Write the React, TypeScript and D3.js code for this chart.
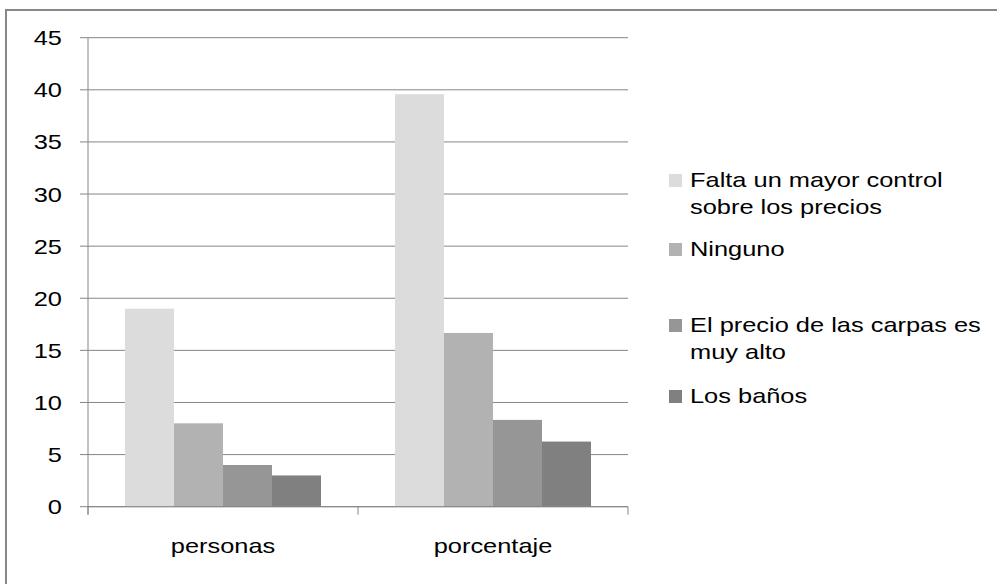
import React from "react";
import * as d3 from "d3";

const categories = ["personas", "porcentaje"];
const seriesNames = [
  ["Falta un mayor control", "sobre los precios"],
  ["Ninguno"],
  ["El precio de las carpas es", "muy alto"],
  ["Los baños"],
];
const personasValues = [19, 8, 4, 3];
const porcentajeValues = [39.58, 16.67, 8.33, 6.25];
const yTicks = [0, 5, 10, 15, 20, 25, 30, 35, 40, 45];
const colors = ["#dcdcdc", "#b2b2b2", "#969696", "#808080"];

const W = 997;
const H = 584;
const FONT = "'Liberation Sans', Arial, sans-serif";
const SX = 1.21;

export default function App() {
  const values = [personasValues, porcentajeValues];
  const x0 = d3.scaleBand<string>().domain(categories).range([88, 628]).padding(0);
  const x1 = d3
    .scaleBand<number>()
    .domain(d3.range(seriesNames.length))
    .range([0, x0.bandwidth()])
    .paddingInner(0)
    .paddingOuter(0.755);
  const y = d3.scaleLinear().domain([0, 45]).range([506.7, 37.7]);
  const grid = "#868686";

  const legendY = d3.scaleOrdinal<number, number>().domain([0, 1, 2, 3]).range([187, 256, 332, 403]);

  const st = (x: number, yy: number) => `translate(${x},${yy}) scale(${SX},1)`;

  return (
    <svg width={W} height={H} style={{ position: "absolute", left: 0, top: 0 }}>
      <rect x={0} y={0} width={W} height={H} fill="#fff" />
      <rect x={6} y={10} width={W + 20} height={H + 20} fill="none" stroke="#888" strokeWidth={2} />
      {yTicks.map((t) => (
        <line key={t} x1={80} x2={628} y1={y(t)} y2={y(t)} stroke={grid} strokeWidth={1} />
      ))}
      {categories.map((c, ci) =>
        values[ci].map((v, si) => (
          <rect
            key={c + si}
            x={(x0(c) as number) + (x1(si) as number)}
            width={x1.bandwidth()}
            y={y(v)}
            height={y(0) - y(v)}
            fill={colors[si]}
          />
        ))
      )}
      <line x1={88} x2={88} y1={y(45)} y2={y(0) + 8} stroke={grid} />
      <line x1={88} x2={628} y1={y(0)} y2={y(0)} stroke={grid} />
      {[...categories.map((c) => x0(c) as number), 628].map((xx, i) => (
        <line key={i} x1={xx} x2={xx} y1={y(0)} y2={y(0) + 8} stroke={grid} />
      ))}
      {yTicks.map((t) => (
        <text
          key={t}
          transform={st(62, y(t) + 7.5)}
          textAnchor="end"
          fontFamily={FONT}
          fontSize={21}
          fill="#000"
        >
          {t}
        </text>
      ))}
      {categories.map((c) => (
        <text
          key={c}
          transform={st((x0(c) as number) + x0.bandwidth() / 2, 553)}
          textAnchor="middle"
          fontFamily={FONT}
          fontSize={21}
          fill="#000"
        >
          {c}
        </text>
      ))}
      {seriesNames.map((lines, i) => (
        <g key={i}>
          <rect x={669} y={legendY(i) - 13} width={13} height={13} fill={colors[i]} />
          {lines.map((l, li) => (
            <text
              key={li}
              transform={st(690, legendY(i) + li * 27)}
              fontFamily={FONT}
              fontSize={21}
              fill="#000"
            >
              {l}
            </text>
          ))}
        </g>
      ))}
    </svg>
  );
}
